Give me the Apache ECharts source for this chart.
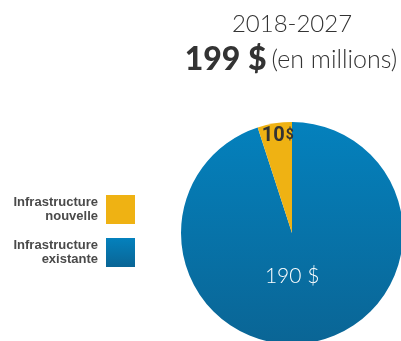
<!DOCTYPE html>
<html>
<head>
<meta charset="utf-8">
<script src="https://cdn.jsdelivr.net/npm/echarts@6/dist/echarts.min.js"></script>
<style>
  html, body { margin: 0; padding: 0; background: #fff; }
  #chart { width: 401px; height: 341px; }
</style>
</head>
<body>
<div id="chart"></div>
<script>
// Budget breakdown, 2018-2027 (millions of dollars)
const categories = ['Infrastructure\nexistante', 'Infrastructure\nnouvelle'];
const values = [190, 10];
const periodLabel = '2018-2027';
const totalLabel = '199 $';
const unitLabel = '(en millions)';

const blueFill = new echarts.graphic.LinearGradient(0, 0, 0, 1, [
  { offset: 0, color: '#0481bd' },
  { offset: 1, color: '#0a6595' }
]);
const yellowFill = '#efb213';

const chart = echarts.init(document.getElementById('chart'), null, { renderer: 'canvas' });

chart.setOption({
  animation: false,
  title: [
    {
      left: 292,
      top: 12,
      padding: 0,
      textAlign: 'center',
      text: periodLabel,
      textStyle: { fontFamily: 'Lato', fontWeight: 300, fontSize: 24, lineHeight: 24, color: '#333' }
    },
    {
      left: 291,
      top: 43,
      padding: 0,
      textAlign: 'center',
      text: '{b|' + totalLabel + '} {c|' + unitLabel + '}',
      textStyle: {
        rich: {
          b: { fontFamily: 'Lato', fontWeight: 900, fontSize: 32, color: '#333', lineHeight: 34 },
          c: { fontFamily: 'Lato', fontWeight: 300, fontSize: 25, color: '#333', lineHeight: 34 }
        }
      }
    }
  ],
  legend: {
    orient: 'vertical',
    left: 8,
    top: 195,
    padding: 0,
    align: 'right',
    itemWidth: 29,
    itemHeight: 29,
    itemGap: 14,
    icon: 'rect',
    data: [categories[1], categories[0]],
    textStyle: {
      fontFamily: 'Liberation Sans',
      fontWeight: 'bold',
      fontSize: 13,
      color: '#4a4a4a',
      align: 'right',
      lineHeight: 14,
      width: 90,
      padding: [0, 3, 0, 0]
    }
  },
  series: [{
    type: 'pie',
    center: [292, 233],
    radius: 111,
    startAngle: 90,
    clockwise: true,
    silent: true,
    labelLine: { show: false },
    data: [
      {
        name: categories[0],
        value: values[0],
        itemStyle: { color: blueFill },
        label: {
          show: true,
          position: 'inside',
          offset: [-9, -15],
          formatter: '{c} $',
          fontFamily: 'Lato',
          fontWeight: 300,
          fontSize: 21,
          color: '#fff'
        }
      },
      {
        name: categories[1],
        value: values[1],
        itemStyle: { color: yellowFill },
        label: {
          show: true,
          position: 'inside',
          offset: [-5, -39],
          formatter: '{n|{c}}{d|$}',
          rich: {
            n: { fontFamily: 'Roboto', fontWeight: 'bold', fontSize: 20, color: '#333' },
            d: { fontFamily: 'Roboto', fontWeight: 'bold', fontSize: 14, color: '#333', padding: [0, 0, 1, 1] }
          }
        }
      }
    ]
  }]
});
</script>
</body>
</html>
